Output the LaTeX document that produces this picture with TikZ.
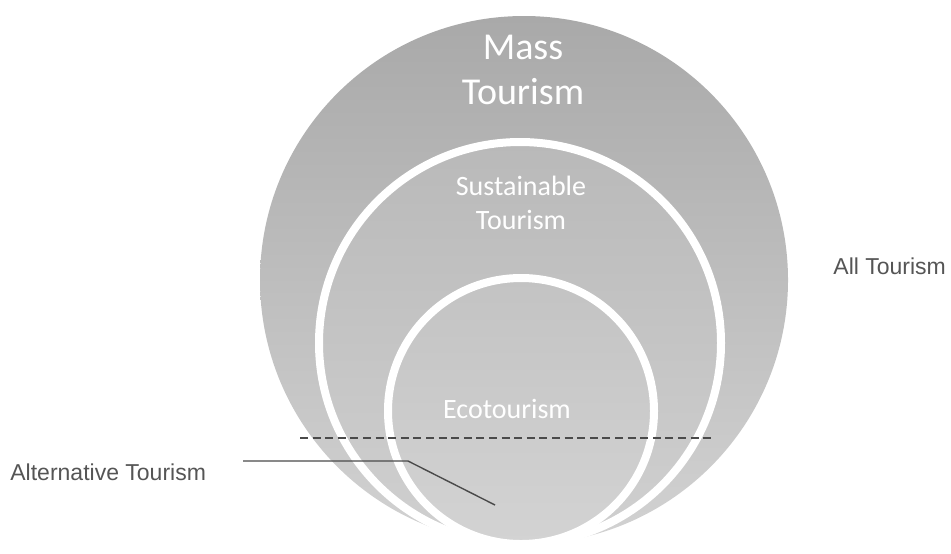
\documentclass[tikz,border=0pt]{standalone}
\usepackage{fontspec}
\setmainfont{Liberation Sans}
\newfontfamily\calibri{Carlito}
\usepackage{xcolor}
\definecolor{ringdark}{HTML}{A9A9A9}
\definecolor{ringlight}{HTML}{D2D2D2}
\definecolor{middark}{HTML}{B9B9B9}
\definecolor{midlight}{HTML}{D0D0D0}
\definecolor{ecodark}{HTML}{C3C3C3}
\definecolor{ecolight}{HTML}{D3D3D3}
\definecolor{inkgray}{HTML}{4A4A4A}
\definecolor{textgray}{HTML}{555555}

\begin{document}
\begin{tikzpicture}[x=0.5pt, y=-0.5pt,
    ring/.style={circle, inner sep=0pt, draw=white, line width=4pt},
    wlabel/.style={text=white, align=center, inner sep=0pt, font=\calibri},
    sidelabel/.style={text=textgray, anchor=west, inner sep=0pt, font=\fontsize{11.5}{14}\selectfont}]
  \useasboundingbox (0,0) rectangle (951,553);

  % nested circles, all touching at the bottom
  \node[circle, inner sep=0pt, minimum size=264pt, top color=ringdark, bottom color=ringlight] (alltour) at (524,280) {};
  \node[ring, minimum size=201pt, top color=middark, bottom color=midlight] (sustour) at (520,343) {};
  \node[ring, minimum size=133pt, top color=ecodark, bottom color=ecolight] (ecotour) at (521,411) {};

  \node[wlabel, font=\calibri\fontsize{19}{22.8}\selectfont] (masslbl) at (523,70) {Mass\\Tourism};
  \node[wlabel, font=\calibri\fontsize{14}{16.8}\selectfont] (suslbl) at (521,203) {Sustainable\\Tourism};
  \node[wlabel, font=\calibri\fontsize{14}{16.8}\selectfont] (ecolbl) at (507,409) {Ecotourism};

  \node[sidelabel] (alllbl) at (833,266) {All Tourism};
  \node[sidelabel] (altlbl) at (10,472) {Alternative Tourism};

  % cut line and leader
  \coordinate (cutL) at (300,438);
  \coordinate (cutR) at (713,438);
  \draw[inkgray, line width=1pt, dash pattern=on 4pt off 2.3pt] (cutL) -- (cutR);

  \coordinate (altA) at (243,461);
  \coordinate (altB) at (408,461);
  \coordinate (altC) at (495,505);
  \draw[inkgray, line width=0.7pt] (altA) -- (altB) -- (altC);
\end{tikzpicture}
\end{document}
